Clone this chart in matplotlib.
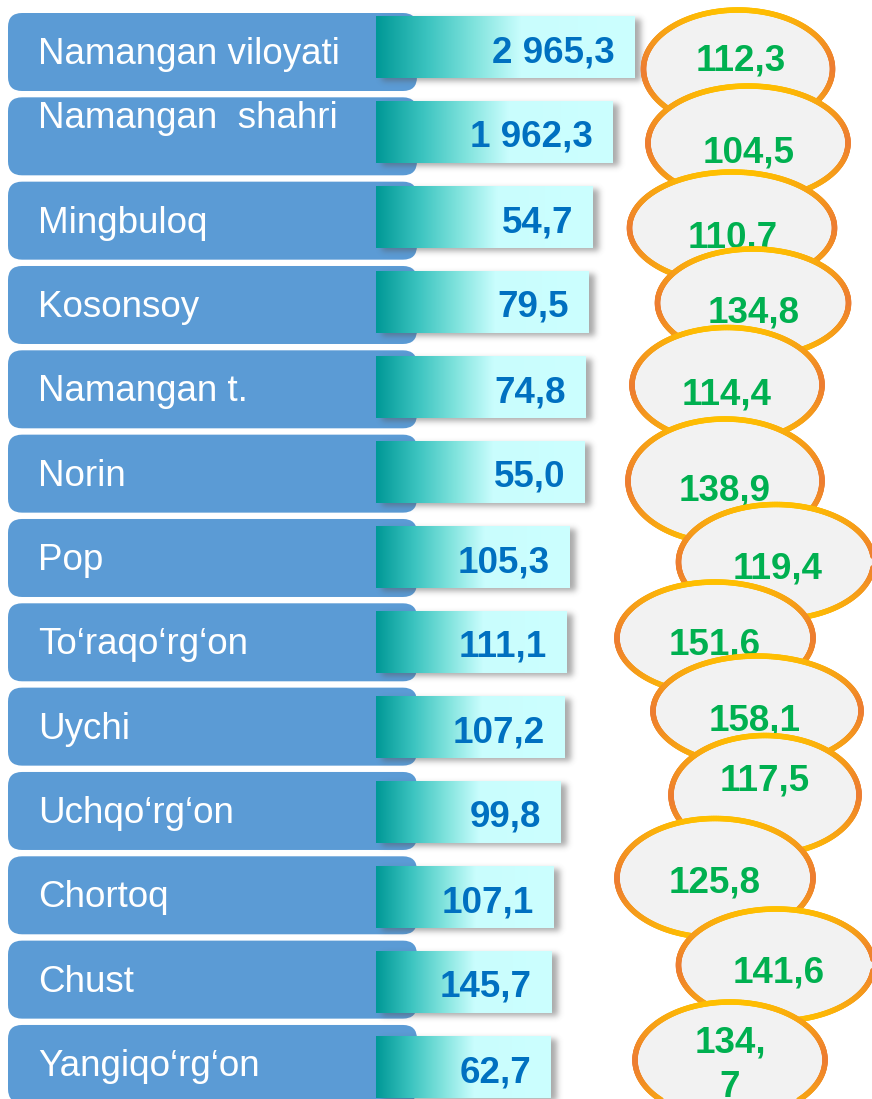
import numpy as np
import matplotlib
matplotlib.use("Agg")
import matplotlib.pyplot as plt
from matplotlib.patches import FancyBboxPatch, Ellipse
from matplotlib.collections import LineCollection
from matplotlib.colors import LinearSegmentedColormap, to_rgb

# ---------------- data ----------------
districts = ["Namangan viloyati", "Namangan  shahri", "Mingbuloq", "Kosonsoy",
             "Namangan t.", "Norin", "Pop", "To\u2018raqo\u2018rg\u2018on", "Uychi",
             "Uchqo\u2018rg\u2018on", "Chortoq", "Chust", "Yangiqo\u2018rg\u2018on"]
volume_labels = ["2 965,3", "1 962,3", "54,7", "79,5", "74,8", "55,0", "105,3",
                 "111,1", "107,2", "99,8", "107,1", "145,7", "62,7"]
growth_labels = ["112,3", "104,5", "110.7", "134,8", "114,4", "138,9", "119,4",
                 "151,6", "158,1", "117,5", "125,8", "141,6", "134,\n7"]

# ---------------- layout (pixels) ----------------
W, H = 872, 1099
box_top0, box_pitch, box_h = 13, 84.33, 78
box_x0, box_x1 = 8, 417
bar_top0, bar_pitch, bar_h, bar_x0 = 16, 85, 62, 376
bar_right = [634, 612, 592, 588, 585, 584, 569, 566, 564, 560, 553, 551, 550]
label_dy = [51, 31, 51, 51, 51, 51, 51, 51, 51, 51, 51, 51, 51]

ell_cx = [738, 748, 732, 753, 727, 725, 776, 715, 757, 765, 715, 776, 730]
ell_cy = [69, 143, 228, 303, 385, 481, 562, 638, 711, 795, 878, 965, 1060]
ell_w = [189, 200, 205, 191, 190, 194, 195, 196, 208, 188, 196, 195, 190]
ell_h = [118, 114, 112, 108, 115, 124, 115, 112, 110, 119, 119, 112, 116]
txt_x = [741, 749, 733, 754, 727, 725, 778, 715, 755, 765, 715, 779, 730]
# baseline of the last text line inside each ellipse
txt_base = [71, 163, 248, 323, 405, 500, 578, 655, 730, 791, 892, 982, 1097]

BLUE = "#5B9BD5"
VAL_C = "#0070C0"
GR_C = "#00B050"
FONT = "Liberation Sans"
FS = 26.5

fig = plt.figure(figsize=(W / 100, H / 100), dpi=100)
ax = fig.add_axes([0, 0, 1, 1])
ax.set_xlim(0, W)
ax.set_ylim(H, 0)
ax.axis("off")

bar_cmap = LinearSegmentedColormap.from_list(
    "teal", [(0, "#009896"), (0.2, "#3CC4C0"), (0.38, "#80E3DD"),
             (0.56, "#C9FDFD"), (1, "#CCFFFF")])


def blur(a, s):
    r = int(3 * s)
    k = np.exp(-np.arange(-r, r + 1) ** 2 / (2 * s * s))
    k /= k.sum()
    a = np.apply_along_axis(lambda v: np.convolve(v, k, mode="same"), 0, a)
    a = np.apply_along_axis(lambda v: np.convolve(v, k, mode="same"), 1, a)
    return a


for i, name in enumerate(districts):
    bt = box_top0 + i * box_pitch
    box = FancyBboxPatch((box_x0, bt), box_x1 - box_x0, box_h,
                         boxstyle="round,pad=0,rounding_size=14",
                         fc=BLUE, ec="none", zorder=1)
    ax.add_patch(box)
    ax.text(38, bt + label_dy[i], name, color="white", fontsize=FS,
            family=FONT, ha="left", va="baseline", zorder=2)

    # bar shadow
    yt = bar_top0 + i * bar_pitch
    xr = bar_right[i]
    pad = 16
    sx0, sx1 = bar_x0 - pad, xr + pad
    sy0, sy1 = yt - pad, yt + bar_h + pad
    nx, ny = int(sx1 - sx0), int(sy1 - sy0)
    gx = np.arange(nx) + sx0 + 0.5
    gy = np.arange(ny) + sy0 + 0.5
    XX, YY = np.meshgrid(gx, gy)
    m = ((XX >= bar_x0 + 6) & (XX <= xr + 6) & (YY >= yt + 3) & (YY <= yt + bar_h + 3)).astype(float)
    m = blur(m, 3.0) * 0.5
    rgba = np.zeros((ny, nx, 4))
    rgba[..., :3] = 0.33
    rgba[..., 3] = m
    ax.imshow(rgba, extent=(sx0, sx1, sy1, sy0), zorder=3, interpolation="bilinear")

    grad = np.linspace(0, 1, 256).reshape(1, -1)
    ax.imshow(grad, cmap=bar_cmap, aspect="auto",
              extent=(bar_x0, xr, yt + bar_h, yt), zorder=4)
    ax.text(xr - 19, yt + 46, volume_labels[i], color=VAL_C, fontsize=FS,
            fontweight="bold", family=FONT, ha="right", va="baseline", zorder=5)

ax.set_xlim(0, W)
ax.set_ylim(H, 0)

c_org = np.array(to_rgb("#ED7D31"))
c_yel = np.array(to_rgb("#FFC000"))
for i, lab in enumerate(growth_labels):
    z = 10 + 3 * i
    cx, cy, w, h = ell_cx[i], ell_cy[i], ell_w[i], ell_h[i]
    ax.add_patch(Ellipse((cx, cy), w, h, fc="#F2F2F2", ec="none", zorder=z))
    th = np.linspace(0, 2 * np.pi, 361)
    px = cx + (w / 2) * np.cos(th)
    py = cy + (h / 2) * np.sin(th)
    pts = np.column_stack([px, py]).reshape(-1, 1, 2)
    segs = np.concatenate([pts[:-1], pts[1:]], axis=1)
    tm = 0.5 * (th[:-1] + th[1:])
    t = np.abs(np.sin(tm)) ** 1.3
    cols = c_org[None, :] * (1 - t[:, None]) + c_yel[None, :] * t[:, None]
    lc = LineCollection(segs, colors=cols, linewidths=4.0, capstyle="round",
                        zorder=z + 1)
    ax.add_collection(lc)
    ax.text(txt_x[i], txt_base[i], lab, color=GR_C, fontsize=FS,
            fontweight="bold", family=FONT, ha="center", va="baseline",
            linespacing=1.35, zorder=z + 2)

fig.savefig("out.png", dpi=100)
